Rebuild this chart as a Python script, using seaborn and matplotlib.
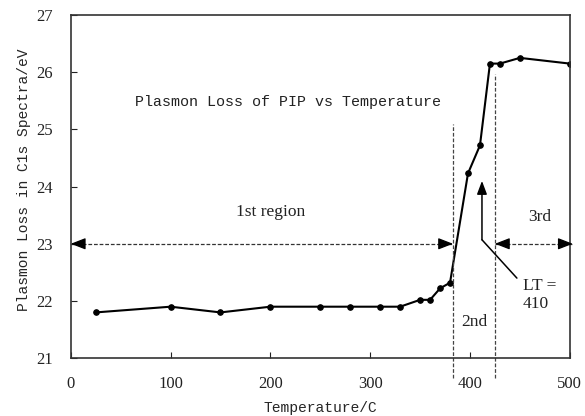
import matplotlib
matplotlib.use("Agg")
import matplotlib.pyplot as plt
import seaborn as sns
import pandas as pd

temperature = [25, 100, 150, 200, 250, 280, 310, 330, 350, 360, 370, 380, 398, 410, 420, 430, 450, 500]
plasmon_loss = [21.8, 21.9, 21.8, 21.9, 21.9, 21.9, 21.9, 21.9, 22.02, 22.02, 22.22, 22.32, 24.23, 24.72, 26.15, 26.15, 26.25, 26.15]
x_ticks = [0, 100, 200, 300, 400, 500]
y_ticks = [21, 22, 23, 24, 25, 26, 27]
region_bounds = [383, 425]

sns.set_style("ticks")
plt.rcParams['font.family'] = ['Liberation Serif', 'DejaVu Serif']

df = pd.DataFrame({"T": temperature, "L": plasmon_loss})

fig = plt.figure(figsize=(5.85, 4.16), dpi=100)
ax = fig.add_axes([0.121, 0.139, 0.853, 0.825])

sns.lineplot(data=df, x="T", y="L", ax=ax, color="black", lw=1.5,
             marker="o", markersize=4, markeredgecolor="black")

ax.set_xlim(0, 500)
ax.set_ylim(21, 27)
ax.set_xticks(x_ticks)
ax.set_yticks(y_ticks)
ax.tick_params(direction="in", length=4, width=0.8, labelsize=12, colors="#222222")
ax.tick_params(axis="y", pad=13)
ax.tick_params(axis="x", pad=13)
for s in ax.spines.values():
    s.set_linewidth(1.2)
    s.set_color("#333333")

mono = "Liberation Mono"
ax.set_xlabel("Temperature/C", family=mono, fontsize=10.5, labelpad=6)
ax.set_ylabel("Plasmon Loss in C1s Spectra/eV", family=mono, fontsize=10.5, labelpad=5)
ax.yaxis.set_label_coords(-0.08, 0.52)

ax.text(64, 25.47, "Plasmon Loss of PIP vs Temperature", family=mono, fontsize=10.8,
        va="center", ha="left", color="#222222")

# region boundary lines
ax.plot([region_bounds[0]] * 2, [20.65, 25.1], color="#444444", lw=0.9,
        ls=(0, (3, 1.5)), clip_on=False)
ax.plot([region_bounds[1]] * 2, [20.65, 25.96], color="#444444", lw=0.9,
        ls=(0, (3, 1.5)), clip_on=False)

# horizontal dashed double arrows at y=23
def dbl_arrow(x0, x1, y):
    ax.plot([x0, x1], [y, y], color="#333333", lw=0.9, ls=(0, (3, 1.5)), clip_on=False)
    for a, b in [(x0 + 12, x0), (x1 - 12, x1)]:
        ax.annotate("", xy=(b, y), xytext=(a, y), annotation_clip=False,
                    arrowprops=dict(arrowstyle="-|>,head_length=0.9,head_width=0.35",
                                    color="black", lw=0.9, shrinkA=0, shrinkB=0))

dbl_arrow(0, region_bounds[0], 23)
dbl_arrow(region_bounds[1], 503, 23)

ax.text(200, 23.55, "1st region", fontsize=12.5, ha="center", va="center", color="#222222")
ax.text(470, 23.47, "3rd", fontsize=12.5, ha="center", va="center", color="#222222")
ax.text(404, 21.63, "2nd", fontsize=12.5, ha="center", va="center", color="#222222")
ax.text(453, 22.1, "LT =\n410", fontsize=12.5, ha="left", va="center",
        linespacing=1.2, color="#222222")

# LT pointer arrow
ax.plot([447, 412], [22.4, 23.07], color="black", lw=1.1)
ax.annotate("", xy=(412, 24.1), xytext=(412, 23.07),
            arrowprops=dict(arrowstyle="-|>,head_length=0.8,head_width=0.3",
                            color="black", lw=1.1, shrinkA=0, shrinkB=0))

fig.savefig("out.png", dpi=100)
